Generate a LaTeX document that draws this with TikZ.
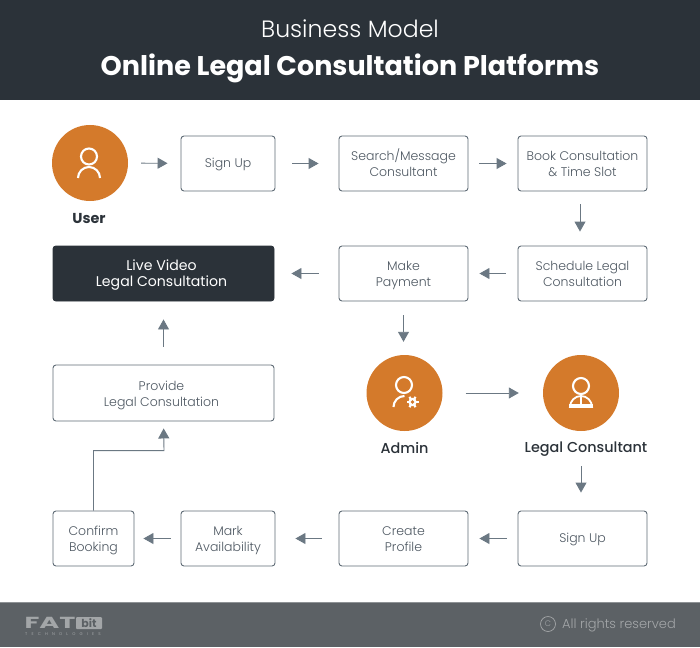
\documentclass[tikz,border=0pt]{standalone}
\usepackage{fontspec}
\setmainfont{Poppins}
\newfontfamily\lightfont{Poppins Light}
\newfontfamily\mediumfont{Poppins Medium}
\usetikzlibrary{arrows.meta}
\definecolor{headbg}{HTML}{2B3239}
\definecolor{footbg}{HTML}{5C6165}
\definecolor{footline}{HTML}{8E9295}
\definecolor{foottext}{HTML}{A3A6A8}
\definecolor{orangefill}{HTML}{D47A2B}
\definecolor{boxline}{HTML}{5F6B75}
\definecolor{boxtext}{HTML}{4E5862}
\definecolor{arrowcol}{HTML}{6B7883}
\newcommand{\twolines}[2]{\rule{0pt}{14pt}#1\\\rule[-4pt]{0pt}{4pt}#2}
\newcommand{\oneline}{\rule[-4pt]{0pt}{16pt}}
\tikzset{
  stepbox/.style={draw=boxline, line width=0.9pt, rounded corners=3pt, fill=white, text=boxtext,
    align=center, inner sep=0pt, font=\lightfont\fontsize{12.5}{16}\selectfont},
  darkbox/.style={stepbox, fill=headbg, draw=headbg, text=white, font=\fontsize{14.1}{16}\selectfont},
  actor/.style={circle, fill=orangefill, minimum size=76pt, inner sep=0pt},
  actorname/.style={text=headbg, inner sep=0pt, font=\mediumfont\fontsize{14.4}{16}\selectfont},
  flow/.style={draw=arrowcol, line width=0.9pt, -{Triangle[length=10pt,width=11pt,fill=arrowcol]}},
  iconline/.style={draw=white, line width=2.1pt},
}
\begin{document}
\begin{tikzpicture}[x=1pt,y=1pt]
\useasboundingbox (0,0) rectangle (700,-647);

% header and footer
\fill[headbg] (0,0) rectangle (700,-100);
\fill[footbg] (0,-602) rectangle (700,-647);
\fill[footline] (0,-602) rectangle (700,-603);
\node[text=white, font=\lightfont\fontsize{23.6}{26}\selectfont] (subtitle) at (350,-29) {Business Model};
\node[text=white, font=\bfseries\fontsize{27}{30}\selectfont] (title) at (350,-68) {Online Legal Consultation Platforms};

% first row
\node[actor] (user) at (90,-163) {};
\node[actorname, font=\bfseries\fontsize{14.4}{16}\selectfont] (username) at (89,-219) {User};
\node[stepbox, minimum width=94pt, minimum height=55pt] (signup) at (228,-163.5) {\oneline Sign Up};
\node[stepbox, minimum width=129pt, minimum height=55pt] (search) at (403.5,-163.5) {\twolines{Search/Message}{Consultant}};
\node[stepbox, minimum width=129pt, minimum height=55pt] (book) at (582.5,-163.5) {\twolines{Book Consultation}{\& Time Slot}};

% second row
\node[darkbox, minimum width=221pt, minimum height=55pt] (live) at (163.5,-273.5) {\twolines{Live Video\hspace*{4pt}}{Legal Consultation\hspace*{4pt}}};
\node[stepbox, minimum width=129pt, minimum height=55pt] (payment) at (403.5,-273.5) {\twolines{Make}{Payment}};
\node[stepbox, minimum width=129pt, minimum height=55pt] (schedule) at (582.5,-273.5) {\twolines{Schedule Legal}{Consultation}};

% third row
\node[stepbox, minimum width=221pt, minimum height=56pt] (provide) at (163.5,-393) {\twolines{Provide\hspace*{4pt}}{Legal Consultation\hspace*{4pt}}};
\node[actor] (admin) at (404.5,-393) {};
\node[actorname] (adminname) at (404.5,-448) {Admin};
\node[actor] (legal) at (581,-393) {};
\node[actorname] (legalname) at (586,-449) {Legal Consultant};

% last row
\node[stepbox, minimum width=81pt, minimum height=55pt] (confirm) at (93.5,-538.5) {\twolines{Confirm}{Booking}};
\node[stepbox, minimum width=94pt, minimum height=55pt] (mark) at (228,-538.5) {\twolines{Mark}{Availability}};
\node[stepbox, minimum width=129pt, minimum height=55pt] (create) at (403.5,-538.5) {\twolines{Create}{Profile}};
\node[stepbox, minimum width=129pt, minimum height=55pt] (signuptwo) at (582.5,-538.5) {\oneline Sign Up};

% connectors
\draw[flow, shorten <=13pt, shorten >=13pt] (user) -- (signup);
\draw[flow, shorten <=17pt, shorten >=20pt] (signup) -- (search);
\draw[flow, shorten <=11pt, shorten >=11pt] (search) -- (book);
\draw[flow, shorten <=13pt, shorten >=14pt] ([xshift=-2.5pt]book.south) -- ([xshift=-2.5pt]schedule.north);
\draw[flow, shorten <=12pt, shorten >=11pt] (schedule) -- (payment);
\draw[flow, shorten <=20pt, shorten >=17pt] (payment) -- (live);
\draw[flow, shorten <=14pt, shorten >=13pt] (payment.south) -- (admin.north -| payment.south);
\draw[flow, shorten <=23pt, shorten >=24pt] (admin) -- (legal);
\draw[flow, shorten <=35pt, shorten >=18pt] (legal.south) -- (legal.south |- signuptwo.north);
\draw[flow, shorten <=11pt, shorten >=11pt] (signuptwo) -- (create);
\draw[flow, shorten <=17pt, shorten >=20pt] (create) -- (mark);
\draw[flow, shorten <=10pt, shorten >=9pt] (mark) -- (confirm);
\draw[flow, shorten >=7pt] (confirm.north) |- ++(70.5,60) -- (provide.south);
\draw[flow, shorten <=18pt, shorten >=18pt] (provide) -- (live);

% user icon
\begin{scope}[shift={(user.center)}]
\draw[iconline] (-1,6.5) circle (8);
\draw[iconline] (-12,-15) arc (180:0:11);
\end{scope}

% admin icon
\begin{scope}[shift={(admin.center)}]
\draw[iconline] (-0.5,8) circle (8);
\draw[iconline] (-11,-14) arc (180:90:11);
\fill[white] (8,-9) circle (4.2);
\foreach \ang in {0,60,...,300} {
  \draw[white, line width=2.2pt] (8,-9) -- ++(\ang:6);
}
\fill[orangefill] (8,-9) circle (1.8);
\end{scope}

% consultant icon
\begin{scope}[shift={(legal.center)}]
\draw[iconline] (0,7) circle (8);
\draw[draw=white, line width=1.8pt] (-11,-14) arc (180:0:11) -- cycle;
\draw[white, line width=1.8pt] (0,-3) -- (0,-14);
\fill[white] (-12,-15) rectangle (12,-10.5);
\end{scope}

% footer texts
\node[text=foottext, font=\bfseries\fontsize{16}{16}\selectfont, inner sep=0pt] (fat) at (50,-622.5) {\scalebox{1.7}[1]{FAT}};
\node[fill=foottext, text=footbg, rounded corners=1pt, inner sep=0pt, minimum width=26pt, minimum height=12pt, font=\bfseries\fontsize{11}{11}\selectfont] (bit) at (89,-623) {bit};
\node[text=foottext, inner sep=0pt, font=\fontsize{4}{4}\selectfont\addfontfeature{LetterSpace=105}] (tech) at (63,-634.5) {TECHNOLOGIES};
\node[circle, draw=foottext, line width=0.7pt, minimum size=15pt, inner sep=0pt, text=foottext, font=\lightfont\fontsize{8}{9}\selectfont] (copy) at (548,-624) {C};
\node[text=foottext, inner sep=0pt, font=\lightfont\fontsize{13}{15}\selectfont, anchor=east] (rights) at (676,-625) {All rights reserved};

\end{tikzpicture}
\end{document}
